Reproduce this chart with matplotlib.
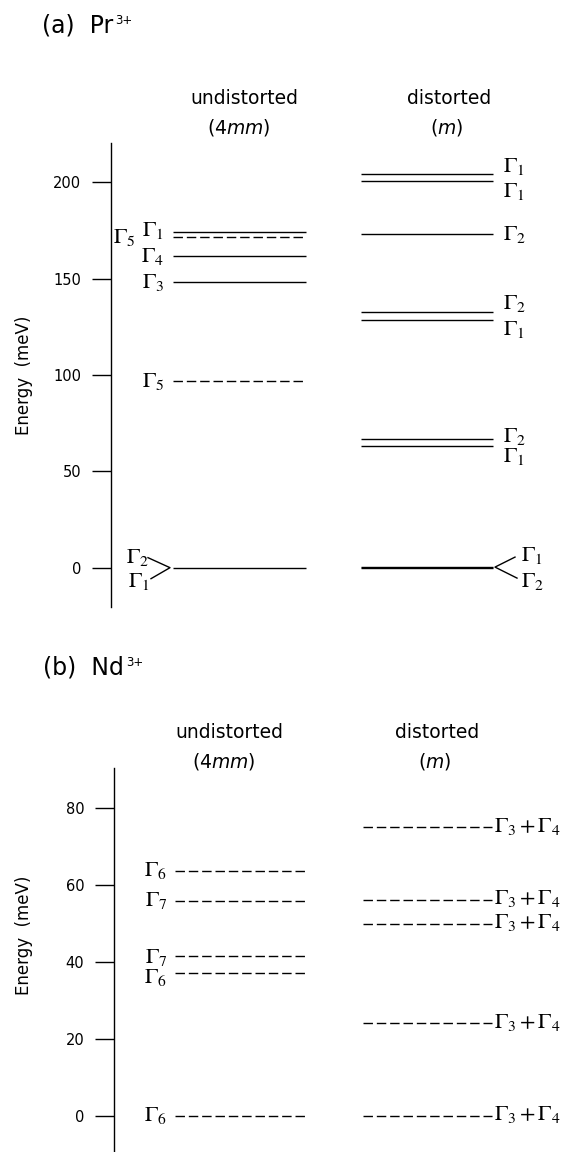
import matplotlib
matplotlib.use("Agg")
import matplotlib.pyplot as plt

plt.rcParams["font.family"] = ["DejaVu Sans"]
plt.rcParams["mathtext.fontset"] = "stix"

# ---------------- crystal-field levels (meV) ----------------
# (a) Pr3+, undistorted (4mm) site
pr_undist_levels = [0.0, 96.9, 148.0, 161.6, 171.7, 174.1]
pr_undist_dashed = [False, True, False, False, True, False]
pr_undist_labels = [None, r"$\Gamma_5$", r"$\Gamma_3$", r"$\Gamma_4$", r"$\Gamma_5$", r"$\Gamma_1$"]
pr_undist_ground = [r"$\Gamma_2$", r"$\Gamma_1$"]

# (a) Pr3+, distorted (m) site
pr_dist_levels = [0.0, 0.6, 63.2, 66.5, 128.6, 132.4, 172.9, 200.4, 204.0]
pr_dist_labels = [None, None, r"$\Gamma_1$", r"$\Gamma_2$", r"$\Gamma_1$", r"$\Gamma_2$",
                  r"$\Gamma_2$", r"$\Gamma_1$", r"$\Gamma_1$"]
pr_dist_ground = [r"$\Gamma_1$", r"$\Gamma_2$"]
pr_ticks = [0, 50, 100, 150, 200]

# (b) Nd3+
nd_undist_levels = [0.0, 37.1, 41.5, 55.8, 63.6]
nd_undist_labels = [r"$\Gamma_6$", r"$\Gamma_6$", r"$\Gamma_7$", r"$\Gamma_7$", r"$\Gamma_6$"]
nd_dist_levels = [0.0, 24.0, 49.8, 56.1, 74.9]
nd_dist_labels = [r"$\Gamma_3 + \Gamma_4$"] * 5
nd_ticks = [0, 20, 40, 60, 80]

# ---------------- layout (pixels) ----------------
W, H, DPI = 566, 1152, 100
fig = plt.figure(figsize=(W / DPI, H / DPI), dpi=DPI)

GAMMA_SIZE = 16
HEAD_SIZE = 13.5
LW = 1.0
DASH = (6.8, 2.8)


def add_axes(left, top, bottom, right=W):
    return fig.add_axes([left / W, 1 - bottom / H, (right - left) / W, (bottom - top) / H])


def px_to_data(ax, px):
    y0, y1 = ax.get_ylim()
    h = ax.get_position().height * H
    return px * (y1 - y0) / h


def style_axes(ax, left, ylim, ticks):
    ax.set_xlim(left, W)
    ax.set_ylim(*ylim)
    for s in ("top", "right", "bottom"):
        ax.spines[s].set_visible(False)
    ax.spines["left"].set_linewidth(1.0)
    ax.tick_params(axis="x", bottom=False, labelbottom=False)
    ax.set_yticks(ticks)
    ax.tick_params(axis="y", direction="out", length=13.5, width=1.0, pad=8,
                   labelsize=10.5)
    ax.patch.set_alpha(0)


def draw_level(ax, x0, x1, e, dashed):
    line, = ax.plot([x0, x1], [e, e], color="black", lw=LW, solid_capstyle="butt")
    if dashed:
        line.set_dashes(DASH)


def label(ax, x, e, text, ha, dy=0.0):
    ax.annotate(text, xy=(x, e), xytext=(0, -dy * 0.72), textcoords="offset points",
                ha=ha, va="center", fontsize=GAMMA_SIZE, annotation_clip=False)


def ftext(x, y, s, **kw):
    return fig.text(x / W, 1 - y / H, s, ha="center", va="center", fontsize=HEAD_SIZE,
                    math_fontfamily="dejavusans", **kw)


def headers(xu, xd, y):
    ftext(xu, y, "undistorted")
    ftext(xu - 5, y + 29, r"(4$\it{mm}$)")
    ftext(xd, y, "distorted")
    ftext(xd - 2, y + 29, r"($\it{m}$)")


def title(x, y, main, sup):
    t = fig.text(x / W, 1 - y / H, main, ha="left", va="baseline", fontsize=17)
    fig.add_artist(matplotlib.text.Annotation(
        sup, xy=(1, 1), xycoords=t, xytext=(1.5, -1), textcoords="offset points",
        ha="left", va="top", fontsize=8.5))


# ================= (a) Pr3+ =================
ax_a = add_axes(111, 143, 607)
style_axes(ax_a, 111, (-20.4, 220.3), pr_ticks)

ua0, ua1 = 173, 306
da0, da1 = 361, 493

for e, d in zip(pr_undist_levels, pr_undist_dashed):
    draw_level(ax_a, ua0, ua1, e, d)
for e in pr_dist_levels:
    draw_level(ax_a, da0, da1, e, False)

# labels to the left of the undistorted levels
undist_offsets = {1: (164, 1), 2: (164, 0), 3: (164, 0), 4: (135, 1), 5: (164, -2)}
for i, txt in enumerate(pr_undist_labels):
    if txt is None:
        continue
    x, dy = undist_offsets[i]
    label(ax_a, x, pr_undist_levels[i], txt, "right", dy)

# labels to the right of the distorted levels
dist_offsets = {2: 11, 3: -3, 4: 10, 5: -9, 6: 0, 7: 10, 8: -8}
for i, txt in enumerate(pr_dist_labels):
    if txt is None:
        continue
    label(ax_a, 503, pr_dist_levels[i], txt, "left", dist_offsets[i])

# ground doublets with split markers
g_u = pr_undist_levels[0]
up, dn = px_to_data(ax_a, 10), px_to_data(ax_a, 11)
ax_a.plot([148, 170, 151], [g_u + up, g_u, g_u - dn], color="black", lw=LW)
label(ax_a, 149, g_u, pr_undist_ground[0], "right", -10)
label(ax_a, 150, g_u, pr_undist_ground[1], "right", 14)

g_d = 0.5 * (pr_dist_levels[0] + pr_dist_levels[1])
ax_a.plot([515, 495, 517], [g_d + up, g_d, g_d - dn], color="black", lw=LW)
label(ax_a, 521, g_d, pr_dist_ground[0], "left", -12)
label(ax_a, 521, g_d, pr_dist_ground[1], "left", 14)

title(42, 32, "(a)  Pr", "3+")
headers(244, 449, 99)
fig.text(24 / W, 1 - 375 / H, "Energy  (meV)", rotation=90, ha="center", va="center",
         fontsize=12)

# ================= (b) Nd3+ =================
ax_b = add_axes(114, 768, 1152)
style_axes(ax_b, 114, (-9.4, 90.3), nd_ticks)

ub0, ub1 = 175, 308
db0, db1 = 363, 492

for e in nd_undist_levels:
    draw_level(ax_b, ub0, ub1, e, True)
for e in nd_dist_levels:
    draw_level(ax_b, db0, db1, e, True)

nd_undist_dy = [0, 5, 2, 0, 0]
for e, txt, dy in zip(nd_undist_levels, nd_undist_labels, nd_undist_dy):
    label(ax_b, 167, e, txt, "right", dy)
for e, txt in zip(nd_dist_levels, nd_dist_labels):
    label(ax_b, 494, e, txt, "left", -1)

title(43, 674, "(b)  Nd", "3+")
headers(229, 437, 733)
fig.text(24 / W, 1 - 935 / H, "Energy  (meV)", rotation=90, ha="center", va="center",
         fontsize=12)

fig.savefig("out.png", dpi=DPI)
